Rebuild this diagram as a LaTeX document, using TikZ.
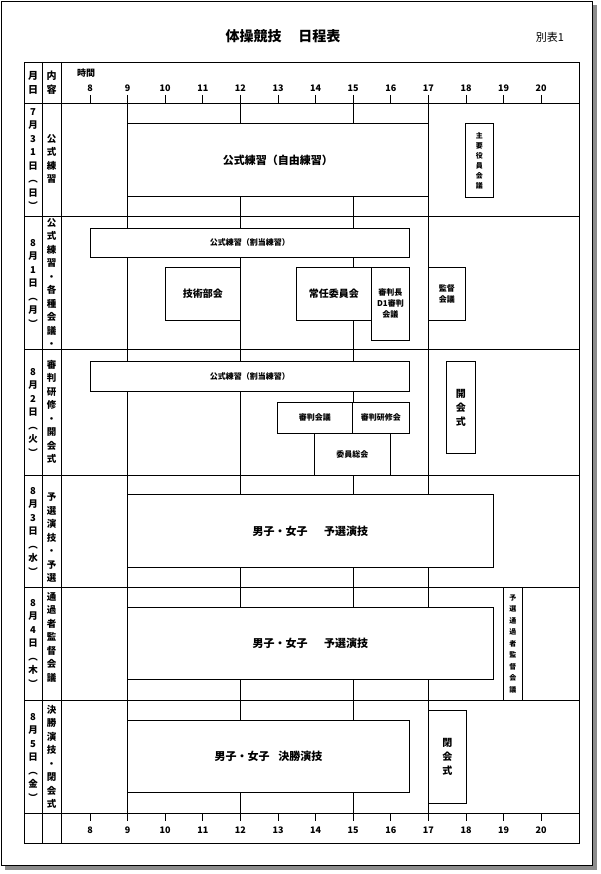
\documentclass[tikz,border=0pt]{standalone}
\usepackage{fontspec}
\setmainfont{Noto Sans CJK JP}
\newcommand{\hx}[1]{\fpeval{90+(#1-8)*37.6}}
\tikzset{
  grid/.style={line width=0.9pt},
  hourline/.style={line width=0.9pt},
  ev/.style={draw, fill=white, line width=0.9pt},
  evtext/.style={font=\fontsize{11}{13}\selectfont\bfseries, align=center, inner sep=0pt},
  vtext/.style={align=center, inner sep=0pt},
}
\begin{document}
\begin{tikzpicture}[x=1pt,y=-1pt]
\useasboundingbox (0,0) rectangle (600,874);
% page frame with shadow
\fill[black!45] (5,5) rectangle (597,870);
\draw[fill=white, line width=0.8pt] (1,1) rectangle (592,865);
% title
\node[font=\fontsize{14}{16}\selectfont\bfseries] (title) at (283,36) {体操競技\hspace{1.2em}日程表};
\node[font=\fontsize{11}{13}\selectfont] (beppyo) at (550,37) {別表1};
% hour lines (behind boxes)
\foreach \h in {9,12,15,17}{\draw[hourline] (\hx{\h},103) -- (\hx{\h},813);}
% grid
\draw[grid] (24,62) rectangle (579,843);
\foreach \yy in {103,216,349,475,587,700,813}{\draw[grid] (24,\yy) -- (579,\yy);}
\draw[grid] (42,62) -- (42,843);
\draw[grid] (61,62) -- (61,843);
% ticks and labels
\foreach \h in {8,...,20}{
  \draw[hourline] (\hx{\h},95) -- (\hx{\h},103);
  \draw[hourline] (\hx{\h},813) -- (\hx{\h},821);
  \node[font=\fontsize{9}{10}\selectfont\bfseries, inner sep=0pt] (t\h) at (\hx{\h},88) {\h};
  \node[font=\fontsize{9}{10}\selectfont\bfseries, inner sep=0pt] (b\h) at (\hx{\h},830) {\h};
}
\node[font=\fontsize{9}{10}\selectfont\bfseries, inner sep=0pt] (jikan) at (86,73) {時間};
\node[vtext, font=\fontsize{10}{14}\selectfont\bfseries] (hd1) at (33,83) {月\\日};
\node[vtext, font=\fontsize{10}{14}\selectfont\bfseries] (hd2) at (51.5,83) {内\\容};
% date column
\tikzset{dt/.style={vtext, font=\fontsize{9.5}{13.5}\selectfont\bfseries}}
\node[dt] (d1) at (33,159) {7\\月\\3\\1\\日\\︵\\日\\︶};
\node[dt] (d2) at (33,283) {8\\月\\1\\日\\︵\\月\\︶};
\node[dt] (d3) at (33,412) {8\\月\\2\\日\\︵\\火\\︶};
\node[dt] (d4) at (33,531) {8\\月\\3\\日\\︵\\水\\︶};
\node[dt] (d5) at (33,643) {8\\月\\4\\日\\︵\\木\\︶};
\node[dt] (d6) at (33,757) {8\\月\\5\\日\\︵\\金\\︶};
% content column
\node[dt] (c1) at (51.5,159) {公\\式\\練\\習};
\node[dt] (c2) at (51.5,283) {公\\式\\練\\習\\・\\各\\種\\会\\議\\・};
\node[dt] (c3) at (51.5,412) {審\\判\\研\\修\\・\\開\\会\\式};
\node[dt] (c4) at (51.5,538) {予\\選\\演\\技\\・\\予\\選};
\node[dt] (c5) at (51.5,637) {通\\過\\者\\監\\督\\会\\議};
\node[dt] (c6) at (51.5,757) {決\\勝\\演\\技\\・\\閉\\会\\式};
% row 1
\node[ev, evtext, minimum width=301pt, minimum height=73pt, anchor=north west] (r1a) at (127,123) {公式練習（自由練習）};
\node[ev, vtext, font=\fontsize{7}{10}\selectfont\bfseries, minimum width=28pt, minimum height=74pt, anchor=north west] (r1b) at (465,123) {主\\要\\役\\員\\会\\議};
% row 2
\node[ev, evtext, font=\fontsize{8}{10}\selectfont\bfseries, minimum width=319pt, minimum height=29pt, anchor=north west] (r2a) at (90,228) {公式練習（割当練習）};
\node[ev, evtext, font=\fontsize{10}{11}\selectfont\bfseries, minimum width=75pt, minimum height=53pt, anchor=north west] (r2b) at (165,267) {技術部会};
\node[ev, evtext, font=\fontsize{10}{11}\selectfont\bfseries, minimum width=75pt, minimum height=53pt, anchor=north west] (r2c) at (296,267) {常任委員会};
\node[ev, evtext, font=\fontsize{8}{11}\selectfont\bfseries, minimum width=38pt, minimum height=73pt, anchor=north west] (r2d) at (371,267) {審判長\\D1審判\\会議};
\node[ev, evtext, font=\fontsize{8}{11}\selectfont\bfseries, minimum width=37pt, minimum height=53pt, anchor=north west] (r2e) at (428,267) {監督\\会議};
% row 3
\node[ev, evtext, font=\fontsize{8}{10}\selectfont\bfseries, minimum width=319pt, minimum height=30pt, anchor=north west] (r3a) at (90,361) {公式練習（割当練習）};
\node[ev, evtext, font=\fontsize{8}{10}\selectfont\bfseries, minimum width=75pt, minimum height=31pt, anchor=north west] (r3b) at (277,402) {審判会議};
\node[ev, evtext, font=\fontsize{8}{10}\selectfont\bfseries, minimum width=57pt, minimum height=31pt, anchor=north west] (r3c) at (352,402) {審判研修会};
\node[ev, evtext, font=\fontsize{8}{10}\selectfont\bfseries, minimum width=76pt, minimum height=42pt, anchor=north west] (r3d) at (314,433) {委員総会};
\node[ev, vtext, font=\fontsize{10}{14}\selectfont\bfseries, minimum width=29pt, minimum height=92pt, anchor=north west] (r3e) at (446,361) {開\\会\\式};
% row 4
\node[ev, evtext, minimum width=366pt, minimum height=73pt, anchor=north west] (r4a) at (127,494) {男子・女子\hspace{1.5em}予選演技};
% row 5
\node[ev, evtext, minimum width=366pt, minimum height=72pt, anchor=north west] (r5a) at (127,607) {男子・女子\hspace{1.5em}予選演技};
\node[ev, vtext, font=\fontsize{7}{11.5}\selectfont\bfseries, minimum width=19pt, minimum height=113pt, anchor=north west] (r5b) at (503,587) {予\\選\\通\\過\\者\\監\\督\\会\\議};
% row 6
\node[ev, evtext, minimum width=282pt, minimum height=72pt, anchor=north west] (r6a) at (127,720) {男子・女子\hspace{0.8em}決勝演技};
\node[ev, vtext, font=\fontsize{10}{14}\selectfont\bfseries, minimum width=38pt, minimum height=93pt, anchor=north west] (r6b) at (428,710) {閉\\会\\式};
\end{tikzpicture}
\end{document}
